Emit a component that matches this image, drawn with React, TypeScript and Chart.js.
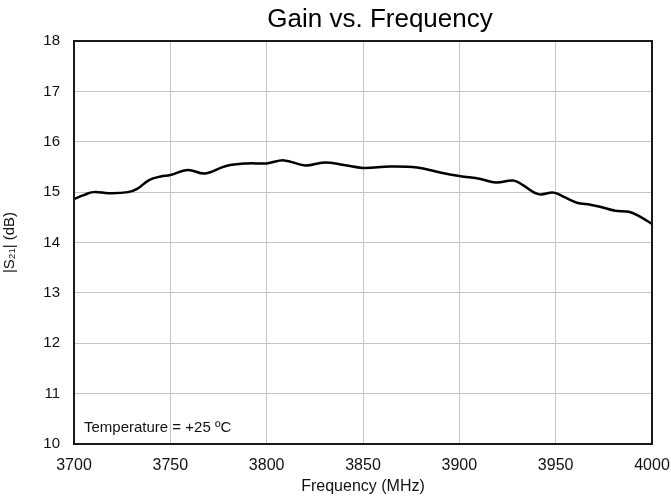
import React, { useEffect, useRef } from "react";
import { Chart, registerables } from "chart.js";

Chart.register(...registerables);

const frequencyMHz = [
  3700, 3705, 3710, 3718, 3728, 3733, 3739, 3745, 3750, 3759, 3768, 3779, 3790,
  3800, 3809, 3820, 3830, 3840, 3850, 3864, 3878, 3890, 3900, 3911, 3919, 3928,
  3933, 3941, 3949, 3954, 3961, 3968, 3973, 3981, 3988, 3994, 4000,
];
const gainDb = [
  14.86, 14.94, 15.0, 14.98, 15.0, 15.07, 15.24, 15.31, 15.34, 15.44, 15.37,
  15.52, 15.57, 15.57, 15.63, 15.53, 15.59, 15.54, 15.48, 15.51, 15.49, 15.39,
  15.32, 15.26, 15.19, 15.23, 15.14, 14.96, 14.99, 14.91, 14.79, 14.75, 14.71,
  14.63, 14.61, 14.51, 14.37,
];
const xTicks = [3700, 3750, 3800, 3850, 3900, 3950, 4000];
const yTicks = [10, 11, 12, 13, 14, 15, 16, 17, 18];
const chartTitle = "Gain vs. Frequency";
const xTitle = "Frequency (MHz)";
const yTitle = "|S\u2082\u2081| (dB)";
const noteText = "Temperature = +25 \u00BAC";

const FONT = "'Liberation Sans', Arial, Helvetica, sans-serif";

export default function App() {
  const ref = useRef<HTMLCanvasElement | null>(null);

  useEffect(() => {
    if (!ref.current) return;
    const boxPlugin = {
      id: "boxAndNote",
      afterDatasetsDraw(chart: any) {
        const { ctx, chartArea } = chart;
        ctx.save();
        ctx.strokeStyle = "#1a1a1a";
        ctx.lineWidth = 2;
        ctx.strokeRect(
          chartArea.left,
          chartArea.top,
          chartArea.right - chartArea.left,
          chartArea.bottom - chartArea.top
        );
        ctx.fillStyle = "#111";
        ctx.font = `15px ${FONT}`;
        ctx.textBaseline = "middle";
        ctx.textAlign = "left";
        ctx.fillText(noteText, chartArea.left + 10, chartArea.bottom - 16);
        // chart title, slightly right of the plot centre as in the reference
        ctx.fillStyle = "#000";
        ctx.font = `26px ${FONT}`;
        ctx.textAlign = "center";
        ctx.fillText(chartTitle, (chartArea.left + chartArea.right) / 2 + 17, chartArea.top - 21);
        ctx.restore();
      },
    };

    const chart = new Chart(ref.current, {
      type: "line",
      data: {
        datasets: [
          {
            data: frequencyMHz.map((f, i) => ({ x: f, y: gainDb[i] })),
            borderColor: "#000",
            borderWidth: 2.5,
            pointRadius: 0,
            tension: 0.4,
            fill: false,
          },
        ],
      },
      options: {
        animation: false,
        responsive: false,
        layout: { padding: { top: 41, left: 0, right: 19, bottom: 0 } },
        plugins: {
          legend: { display: false },
          tooltip: { enabled: false },
          title: { display: false },
        },
        scales: {
          x: {
            type: "linear",
            min: 3700,
            max: 4000,
            afterBuildTicks: (s: any) => {
              s.ticks = xTicks.map((v) => ({ value: v }));
            },
            afterFit: (s: any) => {
              s.height = 55;
              s.paddingLeft = 0;
              s.paddingRight = 0;
            },
            ticks: {
              color: "#111",
              font: { family: FONT, size: 16 },
              padding: 12,
              maxRotation: 0,
              callback: (v: any) => String(v),
            },
            grid: { color: "#c4c4c4", lineWidth: 1, drawTicks: false },
            border: { display: false },
            title: {
              display: true,
              text: xTitle,
              color: "#111",
              font: { family: FONT, size: 16 },
              padding: { top: 0, bottom: 3 },
            },
          },
          y: {
            type: "linear",
            min: 10,
            max: 18,
            afterBuildTicks: (s: any) => {
              s.ticks = yTicks.map((v) => ({ value: v }));
            },
            afterFit: (s: any) => {
              s.width = 74;
              s.paddingTop = 0;
              s.paddingBottom = 0;
            },
            ticks: {
              color: "#111",
              font: { family: FONT, size: 15 },
              padding: 14,
              callback: (v: any) => String(v),
            },
            grid: { color: "#c4c4c4", lineWidth: 1, drawTicks: false },
            border: { display: false },
            title: {
              display: true,
              text: yTitle,
              color: "#111",
              font: { family: FONT, size: 15 },
              padding: { top: 1, bottom: 0 },
            },
          },
        },
      },
      plugins: [boxPlugin],
    });
    return () => chart.destroy();
  }, []);

  return (
    <div style={{ position: "fixed", left: 0, top: 0, width: 671, height: 499, background: "#fff" }}>
      <canvas ref={ref} width={671} height={499} style={{ width: 671, height: 499, display: "block" }} />
    </div>
  );
}
